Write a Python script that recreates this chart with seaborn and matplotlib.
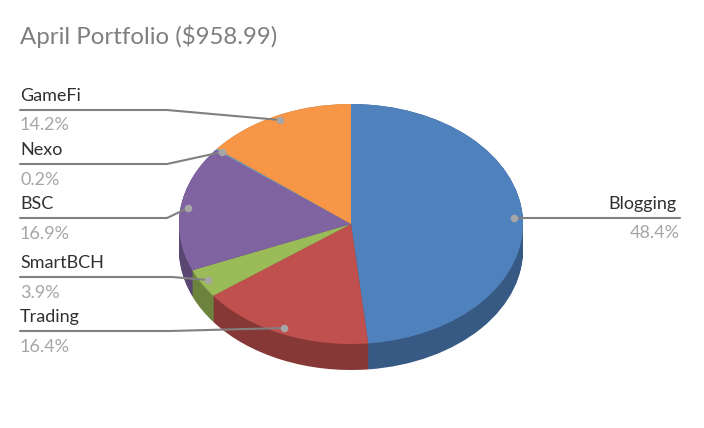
import matplotlib
matplotlib.use("Agg")
import matplotlib.pyplot as plt
import seaborn as sns

categories = ["Blogging", "Trading", "SmartBCH", "BSC", "Nexo", "GameFi"]
values = [48.4, 16.4, 3.9, 16.9, 0.2, 14.2]
palette = ["#4F81BD", "#C0504D", "#9BBB59", "#8064A2", "#7F9DB8", "#F79646"]
side_palette = ["#375A85", "#863836", "#6C833E", "#594671", "#34788A", "#AD6931"]
label_text = ["48.4%", "16.4%", "3.9%", "16.9%", "0.2%", "14.2%"]

sns.set_theme(style="white")
plt.rcParams["font.family"] = ["Lato", "DejaVu Sans"]

W, H = 704, 428
fig = plt.figure(figsize=(W / 100, H / 100), dpi=100, facecolor="white")
ax = fig.add_axes([0, 0, 1, 1])

cx, cy, rx, ry, depth = 351, 224, 172, 120, 26
n_layers = 27
for i in range(n_layers):
    off = -(depth / ry) * (1 - i / (n_layers - 1))
    ax.pie(values, colors=side_palette, startangle=90, counterclock=False,
           center=(0, off), radius=1, wedgeprops=dict(linewidth=0))
ax.pie(values, colors=palette, startangle=90, counterclock=False,
       center=(0, 0), radius=1, wedgeprops=dict(linewidth=0))

ax.set_aspect("auto")
ax.set_xlim(-cx / rx, (W - cx) / rx)
ax.set_ylim(-(H - cy) / ry, cy / ry)
ax.axis("off")

def X(px):
    return (px - cx) / rx
def Y(py):
    return (cy - py) / ry

leaders = {
    "GameFi": [(20, 110), (167, 110), (280, 120)],
    "Nexo": [(20, 164), (167, 164), (222, 152)],
    "BSC": [(20, 218), (167, 218), (188, 208)],
    "SmartBCH": [(20, 277), (172, 277), (208, 280)],
    "Trading": [(20, 331), (170, 331), (284, 328)],
    "Blogging": [(680, 218), (600, 218), (514, 218)],
}
line_col = "#808080"
for name, pts in leaders.items():
    ax.plot([X(p[0]) for p in pts], [Y(p[1]) for p in pts], color=line_col, lw=1.5, zorder=5)
    ax.plot([X(pts[-1][0])], [Y(pts[-1][1])], "o", ms=5.5, mew=0, color="#A6A6A6", zorder=6)

text_col = "#303030"
grey = "#A6A6A6"
fs = 13
lab_pos = {
    "GameFi": (20, 96, 125),
    "Nexo": (20, 150, 180),
    "BSC": (20, 204, 234),
    "SmartBCH": (20, 263, 293),
    "Trading": (20, 317, 347),
}
for name, (x, y1, y2) in lab_pos.items():
    i = categories.index(name)
    ax.text(X(x), Y(y1), name, fontsize=fs, color=text_col, ha="left", va="center")
    ax.text(X(x), Y(y2), label_text[i], fontsize=fs, color=grey, ha="left", va="center")
ax.text(X(677), Y(204), "Blogging", fontsize=fs, color=text_col, ha="right", va="center")
ax.text(X(680), Y(233), label_text[0], fontsize=fs, color=grey, ha="right", va="center")

ax.text(X(20), Y(36), "April Portfolio ($958.99)", fontsize=17.3, color="#7F7F7F", ha="left", va="center")

fig.savefig("out.png", dpi=100, facecolor="white")
